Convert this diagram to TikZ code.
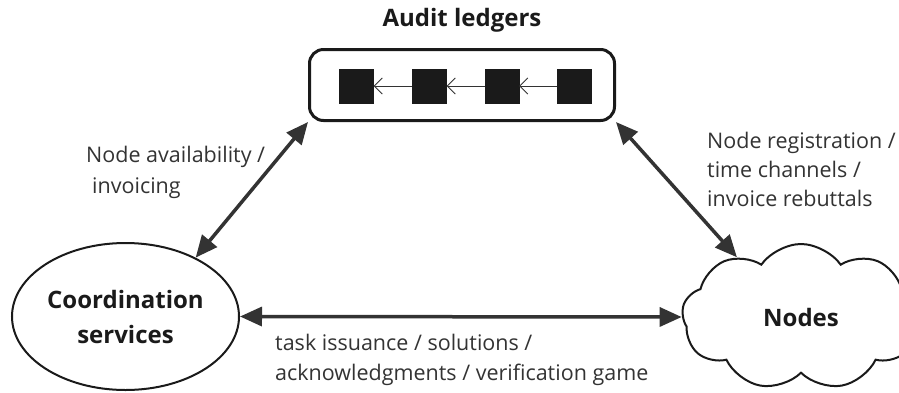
\documentclass[tikz,border=0pt]{standalone}
\usepackage{fontspec}
\setmainfont{Open Sans}
\usetikzlibrary{shapes.geometric,shapes.symbols,arrows.meta}
\definecolor{ink}{HTML}{333333}
\definecolor{blk}{HTML}{1A1A1A}
\begin{document}
\begin{tikzpicture}[x=1pt,y=-1pt,
  lbl/.style={font=\fontsize{21.5}{29}\selectfont, text=ink, align=left, inner sep=0pt},
  ttl/.style={font=\bfseries\fontsize{24}{35}\selectfont, text=blk, align=center},
  conn/.style={draw=ink, line width=3.5pt,
    {Triangle[length=22pt,width=19pt]}-{Triangle[length=22pt,width=19pt]}},
  blockbox/.style={draw=blk, fill=blk, minimum size=34pt, inner sep=0pt},
  chain/.style={draw=ink, line width=0.9pt, -{Straight Barb[length=8pt,width=16pt]}},
  ledgerbox/.style={draw=blk, line width=3pt, rounded corners=14pt, inner sep=0pt},
  shapeline/.style={draw=blk, line width=2pt}
]
\useasboundingbox (0,0) rectangle (899,392);

% title
\node[ttl] (title) at (462,20) {Audit ledgers};

% ledger box with blocks
\node[ledgerbox, minimum width=305pt, minimum height=71pt] (ledger) at (462,85) {};
\node[blockbox] (b1) at (356.5,86) {};
\node[blockbox] (b2) at (429.5,86) {};
\node[blockbox] (b3) at (502,86) {};
\node[blockbox] (b4) at (574.5,86) {};
\draw[chain] (b2) -- (b1);
\draw[chain] (b3) -- (b2);
\draw[chain] (b4) -- (b3);

% coordination services
\node[ellipse, shapeline, ttl, minimum width=227pt, minimum height=147pt, inner sep=0pt]
  (coord) at (125.5,316.5) {Coordination\\services};

% nodes cloud
\node[cloud, shapeline, ttl, cloud puffs=9, cloud puff arc=110,
  minimum width=238pt, minimum height=146pt, inner sep=0pt]
  (nodes) at (801,317) {Nodes};

% connectors
\draw[conn] (coord.40) -- (ledger.south west);
\draw[conn] (nodes.137) -- (ledger.south east);
\draw[conn] (coord.east) -- (nodes.west);

% labels
\node[lbl, anchor=north west] (l1) at (86,146) {Node availability /\\[2pt]\hspace{6pt}invoicing};
\node[lbl, anchor=north west] (l2) at (707,132) {Node registration /\\time channels /\\invoice rebuttals};
\node[lbl, anchor=north west] (l3) at (275,334) {task issuance / solutions /\\[1pt]acknowledgments / verification game};
\end{tikzpicture}
\end{document}
